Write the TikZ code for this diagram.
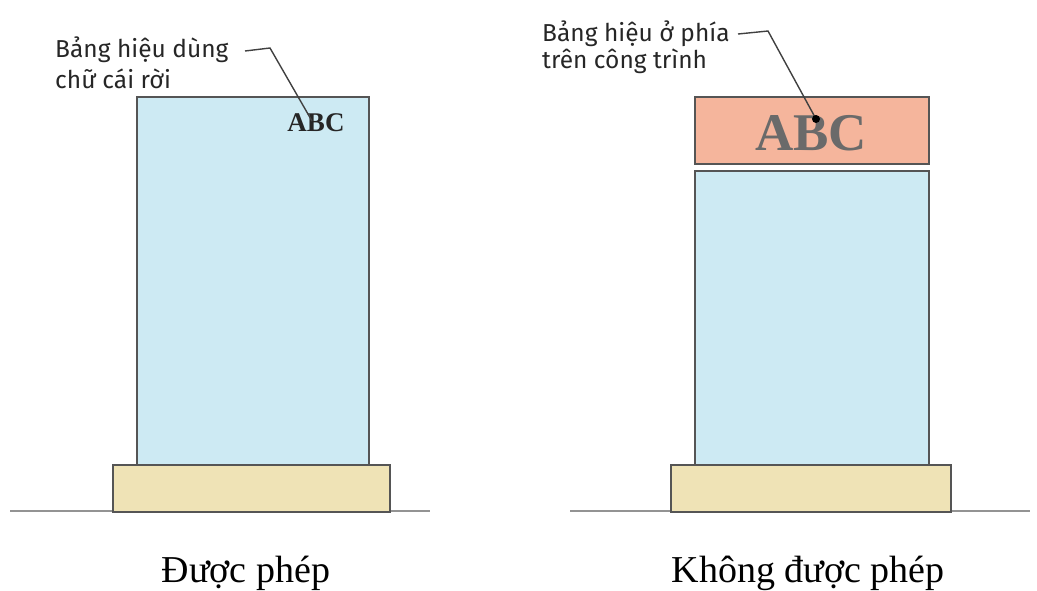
\documentclass[tikz,border=0pt]{standalone}
\usepackage{fontspec}
\setmainfont{Liberation Serif}
\newfontfamily\labelfont{Fira Sans}
\definecolor{glass}{HTML}{CDEAF3}
\definecolor{basec}{HTML}{EFE3B6}
\definecolor{signc}{HTML}{F5B59C}
\definecolor{edge}{HTML}{555555}
\definecolor{abcgray}{HTML}{6A6A6A}
\begin{document}
\begin{tikzpicture}[x=1pt,y=-1pt,
  box/.style={draw=edge,line width=2pt,inner sep=0pt,anchor=north west},
  body/.style={box,fill=glass},
  plinth/.style={box,fill=basec},
  sign/.style={box,fill=signc},
  lbl/.style={font=\labelfont\fontsize{24.5}{31}\selectfont,align=left,anchor=base west,inner sep=0pt,text=black!85},
  captext/.style={font=\fontsize{38}{44}\selectfont,inner sep=0pt,anchor=base},
  leader/.style={draw=black!75,line width=1.4pt},
  ground/.style={draw=gray!85,line width=1.8pt}]
\useasboundingbox (0,0) rectangle (1037,590);
% left
\draw[ground] (10,511) coordinate (g1a) -- (430,511) coordinate (g1b);
\node[body,minimum width=232,minimum height=370] (b1) at (136,96) {};
\node[plinth,minimum width=277,minimum height=47] (p1) at (112,464) {};
\node[font=\bfseries\fontsize{27}{30}\selectfont,text=black!85,inner sep=0pt] (abc1) at (316,123) {ABC};
\node[lbl] (lab1) at (55,88) {Bảng hiệu dùng\\chữ cái rời};
\coordinate (l1a) at (245,51);
\coordinate (l1b) at (270,48);
\coordinate (l1c) at (312,121);
\draw[leader] (l1a) -- (l1b) -- (l1c);
\node[captext] (c1) at (246,582) {Được phép};
% right
\draw[ground] (570,511) coordinate (g2a) -- (1030,511) coordinate (g2b);
\node[sign,minimum width=234,minimum height=67] (s2) at (694,96) {};
\node[font=\bfseries\fontsize{53}{56}\selectfont,text=abcgray,inner sep=0pt] (abc2) at (811,133) {ABC};
\node[body,minimum width=234,minimum height=296] (b2) at (694,170) {};
\node[plinth,minimum width=280,minimum height=47] (p2) at (670,464) {};
\node[lbl,font=\labelfont\fontsize{24.5}{27}\selectfont] (lab2) at (542,68) {Bảng hiệu ở phía\\trên công trình};
\coordinate (l2a) at (738,34);
\coordinate (l2b) at (768,31);
\coordinate (l2c) at (816,119);
\draw[leader] (l2a) -- (l2b) -- (l2c);
\fill[black] (l2c) circle (4);
\node[captext] (c2) at (808,582) {Không được phép};
\end{tikzpicture}
\end{document}
